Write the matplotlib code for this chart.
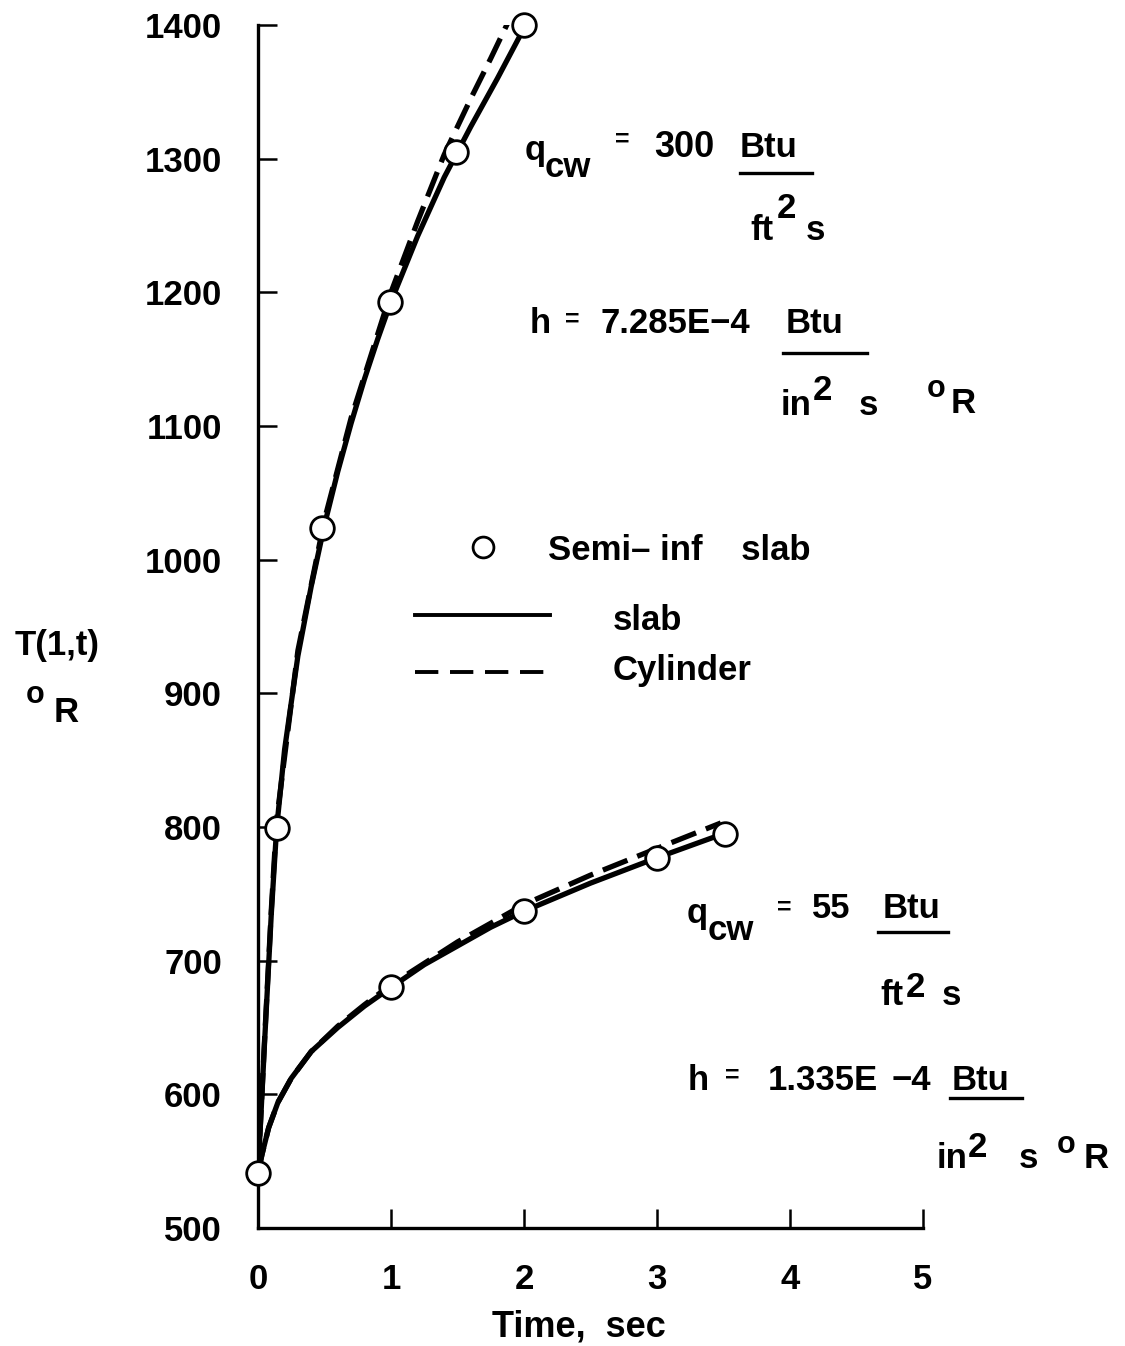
import matplotlib
matplotlib.use('Agg')
import matplotlib.pyplot as plt
from matplotlib.lines import Line2D

plt.rcParams['font.family'] = ['Liberation Sans', 'DejaVu Sans']

#-----------------------------------------------------------------------------------------------------------------------
# Data (time in s, temperature in deg R)
# q = 300 Btu/ft2 s case
hi_slab_t = [0, 0.05, 0.10, 0.14, 0.2, 0.3, 0.4, 0.5, 0.6, 0.7, 0.8, 0.9, 1.0, 1.2, 1.4, 1.5, 1.6, 1.8, 1.97]
hi_slab_T = [541, 640, 735, 799, 858, 928, 980, 1026, 1066, 1102, 1135, 1165, 1193, 1242, 1286, 1305, 1324, 1360, 1392]
hi_cyl_t = [0, 0.05, 0.10, 0.14, 0.3, 0.5, 0.7, 1.0, 1.2, 1.4, 1.6, 1.75, 1.88]
hi_cyl_T = [541, 642, 738, 805, 932, 1030, 1106, 1200, 1253, 1303, 1345, 1375, 1402]
hi_semi_t = [0.14, 0.48, 0.99, 1.49, 2.0]
hi_semi_T = [799, 1024, 1193, 1305, 1400]

# q = 55 Btu/ft2 s case
lo_slab_t = [0, 0.03, 0.08, 0.15, 0.25, 0.4, 0.6, 0.8, 1.0, 1.25, 1.5, 1.75, 2.0, 2.5, 3.0, 3.5]
lo_slab_T = [541, 555, 575, 594, 612, 632, 650, 666, 680, 697, 711, 725, 737, 758, 777, 795]
lo_cyl_t = [0, 0.03, 0.08, 0.15, 0.25, 0.4, 0.6, 0.8, 1.0, 1.5, 2.0, 2.5, 3.0, 3.48]
lo_cyl_T = [541, 555, 575, 594, 612, 632, 651, 667, 682, 714, 742, 764, 784, 803]
lo_semi_t = [0, 1.0, 2.0, 3.0, 3.51]
lo_semi_T = [541, 680, 737, 777, 795]

x_ticks = [0, 1, 2, 3, 4, 5]
y_ticks = [500, 600, 700, 800, 900, 1000, 1100, 1200, 1300, 1400]

#-----------------------------------------------------------------------------------------------------------------------
W, H = 1125, 1346
fig = plt.figure(figsize=(W/100, H/100), dpi=100)
ax = fig.add_axes([258/W, 1-1228/H, (923-258)/W, (1228-25)/H])

LW = 3.8
dash = (5, 2)
ax.plot(hi_slab_t, hi_slab_T, color='black', lw=LW, solid_capstyle='butt', zorder=3)
ax.plot(hi_cyl_t, hi_cyl_T, color='black', lw=LW, dashes=dash, zorder=2)
ax.plot(lo_slab_t, lo_slab_T, color='black', lw=LW, solid_capstyle='butt', zorder=3)
ax.plot(lo_cyl_t, lo_cyl_T, color='black', lw=LW, dashes=dash, zorder=2)
for tt, TT in [(hi_semi_t, hi_semi_T), (lo_semi_t, lo_semi_T)]:
    ax.plot(tt, TT, 'o', ms=17, mfc='white', mec='black', mew=2.0, zorder=5, clip_on=False)

ax.set_xlim(0, 5)
ax.set_ylim(500, 1400)
ax.set_xticks(x_ticks)
ax.set_yticks(y_ticks)
for s in ['top', 'right']:
    ax.spines[s].set_visible(False)
for s in ['left', 'bottom']:
    ax.spines[s].set_linewidth(2.4)
ax.tick_params(axis='both', direction='in', length=14, width=1.8, labelsize=25, pad=26)
ax.tick_params(axis='x', pad=25)
for lab in ax.get_xticklabels() + ax.get_yticklabels():
    lab.set_fontweight('bold')
ax.set_xlabel('Time,  sec', fontsize=26, fontweight='bold')
ax.xaxis.set_label_coords(0.482, -0.068)

#-----------------------------------------------------------------------------------------------------------------------
# Annotation texts (pixel positions converted to figure fraction)
def txt(x, y, s, size=25, **kw):
    fig.text(x/W, 1-y/H, s, fontsize=size, fontweight='bold', ha='left', va='baseline', **kw)

def bar(x1, x2, y, lw=2.4):
    fig.add_artist(Line2D([x1/W, x2/W], [1-y/H, 1-y/H], color='black', lw=lw))

# y label
txt(15, 655, 'T(1,t)')
txt(26, 703, 'o', size=22)
txt(54, 722, 'R')

# upper block
txt(525, 160, 'q')
txt(545, 177, 'cw')
txt(615, 147, '=', size=18)
txt(654, 157, '300', size=26)
txt(740, 157, 'Btu')
bar(740, 812, 173)
txt(750, 240, 'ft')
txt(777, 218, '2')
txt(806, 240, 's')

txt(530, 333, 'h')
txt(565, 327, '=', size=18)
txt(600, 333, '7.285E\u22124')
txt(786, 333, 'Btu')
bar(783, 867, 353)
txt(781, 415, 'in')
txt(813, 400, '2')
txt(859, 415, 's')
txt(927, 397, 'o', size=22)
txt(951, 413, 'R')

# lower block
txt(687, 923, 'q')
txt(708, 940, 'cw')
txt(777, 915, '=', size=18)
txt(812, 918, '55')
txt(883, 918, 'Btu')
bar(878, 948, 932)
txt(880, 1005, 'ft')
txt(906, 997, '2')
txt(942, 1005, 's')

txt(688, 1090, 'h')
txt(725, 1083, '=', size=18)
txt(768, 1090, '1.335E')
txt(892, 1090, '\u22124')
txt(952, 1090, 'Btu')
bar(950, 1022, 1098)
txt(937, 1168, 'in')
txt(968, 1157, '2')
txt(1019, 1168, 's')
txt(1057, 1153, 'o', size=22)
txt(1084, 1168, 'R')

# legend drawn by hand
fig.add_artist(Line2D([483/W], [1-547/H], marker='o', ms=15, mfc='white', mec='black', mew=2.0))
txt(548, 560, 'Semi\u2013 inf    slab')
fig.add_artist(Line2D([415/W, 550/W], [1-615/H, 1-615/H], color='black', lw=2.8))
txt(613, 630, 'slab')
fig.add_artist(Line2D([415/W, 550/W], [1-672/H, 1-672/H], color='black', lw=2.8, dashes=(6, 3)))
txt(613, 680, 'Cylinder')

fig.savefig('out.png', dpi=100)
